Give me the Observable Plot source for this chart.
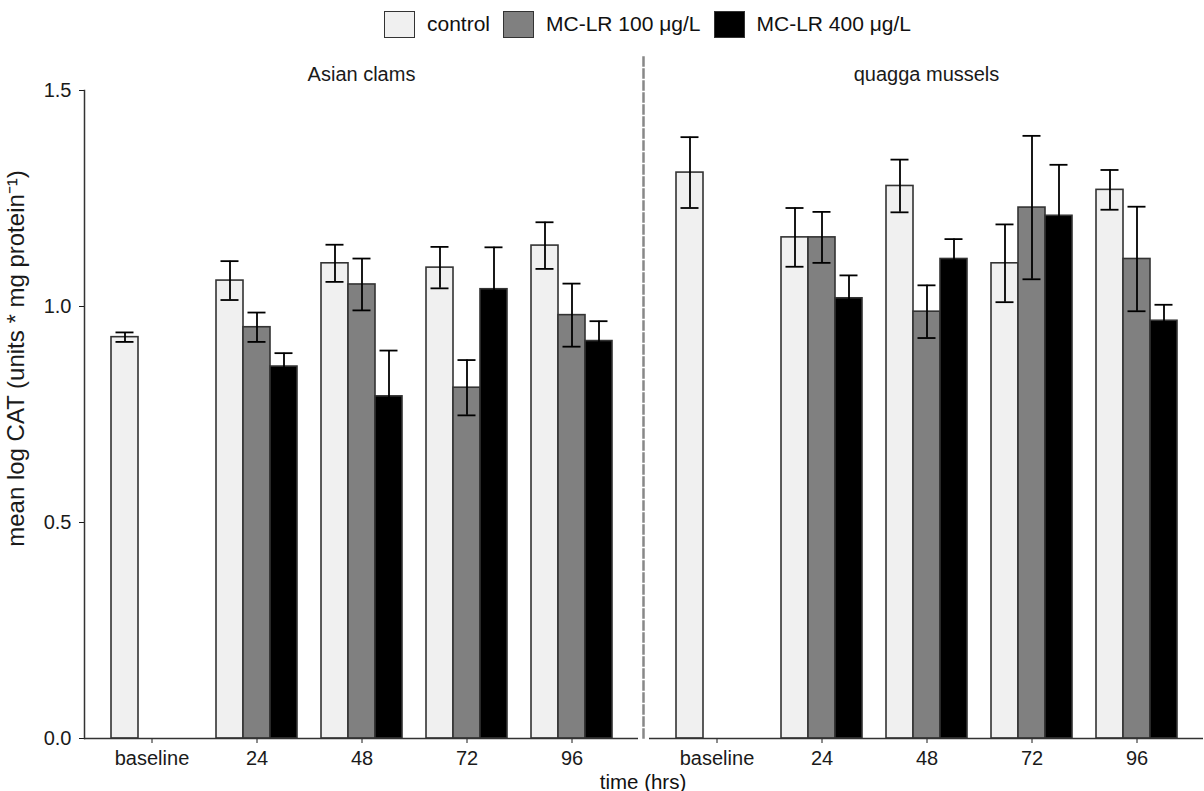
<!DOCTYPE html>
<html><head><meta charset="utf-8">
<script src="https://cdn.jsdelivr.net/npm/d3@7"></script>
<script src="https://cdn.jsdelivr.net/npm/@observablehq/plot@0.6"></script>
<style>
body{margin:0;background:#fff;font-family:"Liberation Sans",Arial,sans-serif;}
#legend{height:48px;width:1204px;display:flex;align-items:center;justify-content:center;padding-left:104px;box-sizing:border-box;font-size:21px;color:#111;}
.item{display:flex;align-items:center;margin-right:13px;}
.sw{width:31px;height:27px;border:1.6px solid #333;margin-right:12px;box-sizing:border-box;}
#xlabel{width:1204px;text-align:center;padding-left:82px;box-sizing:border-box;font-size:20.5px;line-height:20px;color:#111;}
</style></head><body>
<div id="legend"></div><div id="chart"></div><div id="xlabel">time (hrs)</div>
<script>
const species = ["Asian clams", "quagga mussels"];
const times = ["baseline", "24", "48", "72", "96"];
const treatments = ["control", "MC-LR 100 \u03bcg/L", "MC-LR 400 \u03bcg/L"];
const colors = ["#f0f0f0", "#808080", "#000000"];
const yLabel = "mean log CAT (units * mg protein\u207b\u00b9)";

// means and standard errors, per time (baseline, 24, 48, 72, 96)
const clamsControlMean = [0.929, 1.060, 1.100, 1.090, 1.141];
const clamsControlSE   = [0.011, 0.045, 0.043, 0.048, 0.054];
const clams100Mean     = [0, 0.952, 1.051, 0.812, 0.980];
const clams100SE       = [null, 0.034, 0.060, 0.064, 0.073];
const clams400Mean     = [0, 0.861, 0.792, 1.040, 0.920];
const clams400SE       = [null, 0.031, 0.106, 0.097, 0.046];
const quaggaControlMean = [1.310, 1.160, 1.279, 1.100, 1.270];
const quaggaControlSE   = [0.082, 0.068, 0.061, 0.090, 0.046];
const quagga100Mean     = [0, 1.160, 0.988, 1.229, 1.110];
const quagga100SE       = [null, 0.059, 0.061, 0.166, 0.121];
const quagga400Mean     = [0, 1.019, 1.110, 1.210, 0.967];
const quagga400SE       = [null, 0.053, 0.046, 0.118, 0.037];

const series = [
  [species[0], treatments[0], clamsControlMean, clamsControlSE],
  [species[0], treatments[1], clams100Mean, clams100SE],
  [species[0], treatments[2], clams400Mean, clams400SE],
  [species[1], treatments[0], quaggaControlMean, quaggaControlSE],
  [species[1], treatments[1], quagga100Mean, quagga100SE],
  [species[1], treatments[2], quagga400Mean, quagga400SE]
];
const rows = [];
for (const [sp, tr, m, s] of series) {
  times.forEach((t, i) => rows.push({species: sp, treatment: tr, time: t, mean: m[i], se: s[i]}));
}

// legend
const legend = document.getElementById("legend");
treatments.forEach((t, i) => {
  const it = document.createElement("div"); it.className = "item";
  const sw = document.createElement("div"); sw.className = "sw"; sw.style.background = colors[i];
  const tx = document.createElement("span"); tx.textContent = t;
  it.appendChild(sw); it.appendChild(tx); legend.appendChild(it);
});

const dodge = [-27, 0, 27]; // pixel dodge offset per treatment
const marks = [];
treatments.forEach((t, i) => {
  const d = rows.filter(r => r.treatment === t);
  marks.push(Plot.barY(d, {fx: "species", x: "time", y: "mean", fill: "treatment", stroke: "#333", strokeWidth: 1.6, dx: dodge[i]}));
});
treatments.forEach((t, i) => {
  const d = rows.filter(r => r.treatment === t && r.se != null);
  marks.push(Plot.ruleX(d, {fx: "species", x: "time", y1: r => r.mean - r.se, y2: r => r.mean + r.se, stroke: "#000", strokeWidth: 1.8, dx: dodge[i]}));
  marks.push(Plot.tickY(d, {fx: "species", x: "time", y: r => r.mean + r.se, stroke: "#000", strokeWidth: 1.8, dx: dodge[i], insetLeft: 4.5, insetRight: 4.5}));
  marks.push(Plot.tickY(d, {fx: "species", x: "time", y: r => r.mean - r.se, stroke: "#000", strokeWidth: 1.8, dx: dodge[i], insetLeft: 4.5, insetRight: 4.5}));
});
marks.push(Plot.ruleY([0], {stroke: "#333", strokeWidth: 1.5}));
marks.push(Plot.frame({anchor: "left", fx: [species[0]], stroke: "#333", strokeWidth: 1.5}));
marks.push(Plot.frame({anchor: "left", fx: [species[1]], dx: -6, insetTop: -33, stroke: "#888", strokeWidth: 2.5, strokeDasharray: "8,4"}));
marks.push(Plot.text([yLabel], {fx: [species[0]], text: d => d, frameAnchor: "left", textAnchor: "middle", lineAnchor: "middle", rotate: -90, dx: -68, dy: -56, fontSize: 24, fill: "#1a1a1a"}));

const chart = Plot.plot({
  width: 1204, height: 724,
  marginTop: 42, marginBottom: 34, marginLeft: 83, marginRight: 1,
  style: {fontFamily: '"Liberation Sans", Arial, sans-serif', fontSize: "20px", color: "#1a1a1a", background: "#fff"},
  fx: {domain: species, axis: "top", label: null, tickSize: 0, tickPadding: 10, paddingInner: 0.0195, paddingOuter: 0},
  x: {domain: times, paddingInner: 0.746, paddingOuter: 0.49, label: null, tickSize: 5, tickPadding: 7},
  y: {domain: [0, 1.5], ticks: 3, tickFormat: d3.format(".1f"), label: null, tickSize: 5, tickPadding: 8},
  color: {domain: treatments, range: colors},
  marks
});
document.getElementById("chart").appendChild(chart);
</script>
</body></html>
